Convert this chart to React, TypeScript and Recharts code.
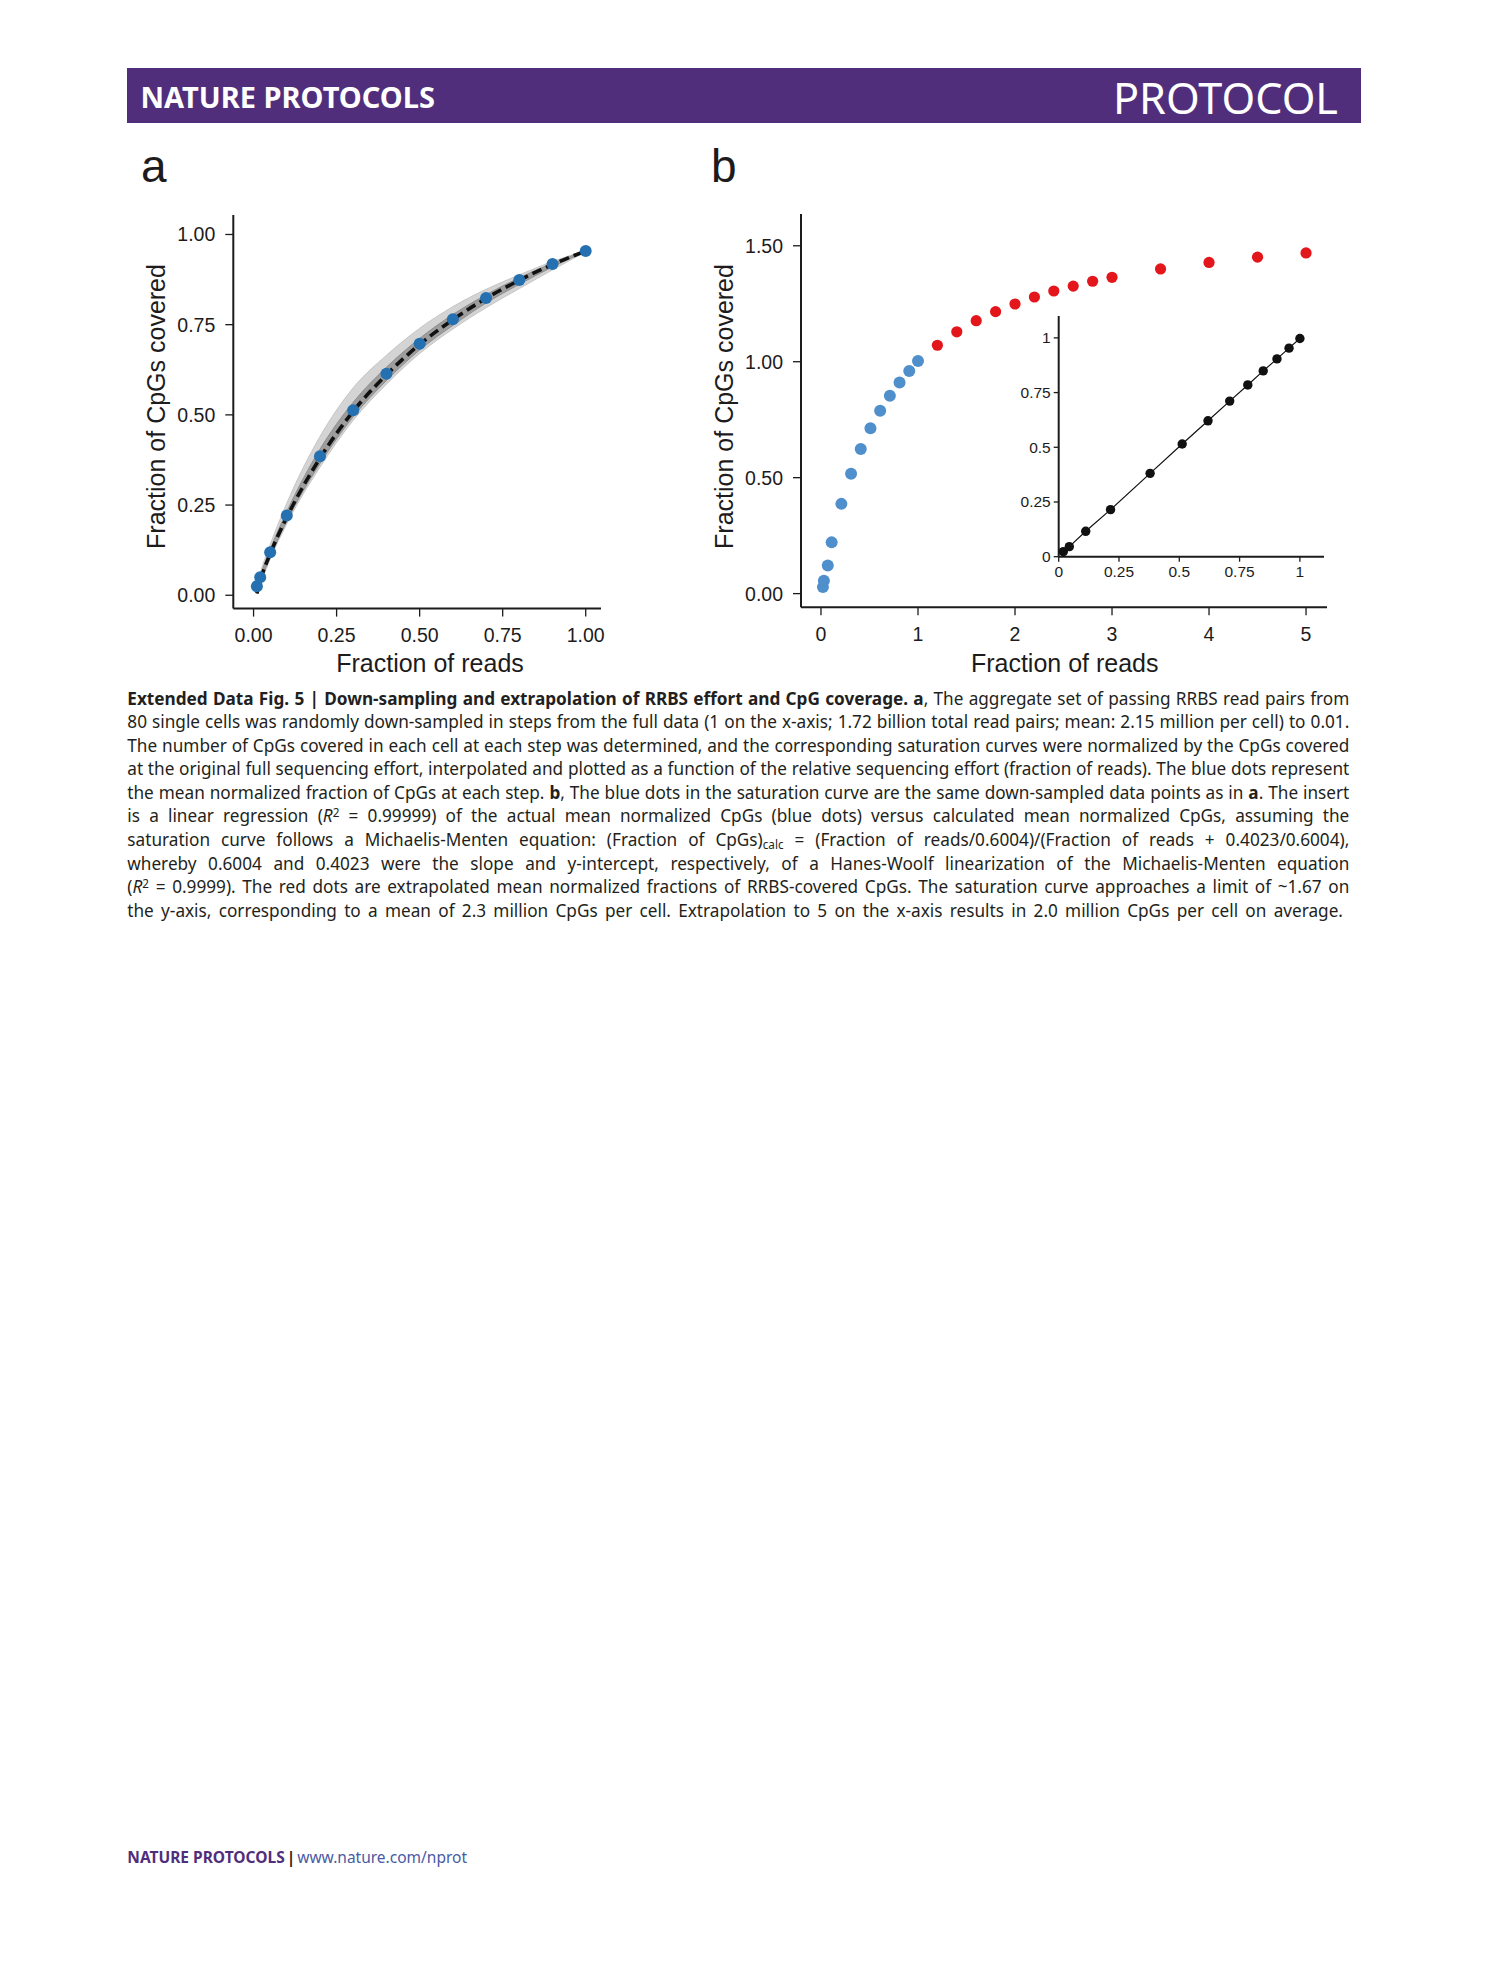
import React from 'react';
import { ComposedChart, XAxis, YAxis, Area, Line, Scatter } from 'recharts';

// ---------- data: panel a ----------
const readFractionsA = [0.01, 0.02, 0.05, 0.1, 0.2, 0.3, 0.4, 0.5, 0.6, 0.7, 0.8, 0.9, 1.0];
const meanCpgA = [0.025, 0.05, 0.119, 0.221, 0.385, 0.513, 0.614, 0.697, 0.765, 0.824, 0.874, 0.918, 0.954];
const dashedCpgA = [0.005, 0.04, 0.115, 0.216, 0.38, 0.51, 0.611, 0.695, 0.764, 0.823, 0.873, 0.917, 0.954];
const cellBandHighA = [0.03, 0.062, 0.14, 0.255, 0.44, 0.575, 0.665, 0.74, 0.8, 0.848, 0.888, 0.925, 0.956];
const cellBandLowA = [0.005, 0.03, 0.1, 0.198, 0.355, 0.485, 0.585, 0.67, 0.738, 0.797, 0.85, 0.902, 0.952];
const cellCoreHighA = [0.02, 0.052, 0.127, 0.232, 0.405, 0.535, 0.632, 0.712, 0.778, 0.833, 0.88, 0.92, 0.955];
const cellCoreLowA = [0.005, 0.035, 0.105, 0.205, 0.365, 0.495, 0.595, 0.68, 0.748, 0.81, 0.862, 0.91, 0.953];
const ticksA = [0, 0.25, 0.5, 0.75, 1];

// ---------- data: panel b ----------
const sampledReadsB = [0.02, 0.03, 0.07, 0.11, 0.21, 0.31, 0.41, 0.51, 0.61, 0.71, 0.81, 0.91, 1.0];
const sampledCpgB = [0.028, 0.055, 0.121, 0.221, 0.387, 0.517, 0.624, 0.713, 0.789, 0.853, 0.91, 0.96, 1.003];
const extrapReadsB = [1.2, 1.4, 1.6, 1.8, 2.0, 2.2, 2.4, 2.6, 2.8, 3.0, 3.5, 4.0, 4.5, 5.0];
const extrapCpgB = [1.071, 1.129, 1.177, 1.216, 1.249, 1.279, 1.305, 1.326, 1.347, 1.364, 1.4, 1.428, 1.451, 1.469];
const ticksBX = [0, 1, 2, 3, 4, 5];
const ticksBY = [0, 0.5, 1, 1.5];

// ---------- data: inset ----------
const insetCalculated = [0.019, 0.044, 0.112, 0.215, 0.379, 0.512, 0.619, 0.709, 0.784, 0.848, 0.905, 0.955, 1.0];
const insetActual = [0.023, 0.046, 0.116, 0.215, 0.381, 0.515, 0.621, 0.711, 0.785, 0.849, 0.904, 0.953, 0.997];
const ticksInset = [0, 0.25, 0.5, 0.75, 1];

// ---------- tables built from arrays ----------
const tableA = readFractionsA.map((x, i) => ({
  x,
  mean: meanCpgA[i],
  dashed: dashedCpgA[i],
  bandLo: cellBandLowA[i],
  bandHi: cellBandHighA[i],
  coreLo: cellCoreLowA[i],
  coreHi: cellCoreHighA[i],
}));
const pointsA = readFractionsA.map((x, i) => ({ x, y: meanCpgA[i] }));
const sampledB = sampledReadsB.map((x, i) => ({ x, y: sampledCpgB[i] }));
const extrapB = extrapReadsB.map((x, i) => ({ x, y: extrapCpgB[i] }));
const insetPts = insetCalculated.map((x, i) => ({ x, y: insetActual[i] }));

const FONT_AX = '"Liberation Sans", Arial, sans-serif';
const FONT_TXT = '"Noto Sans", "Open Sans", sans-serif';
const INK = '#1d1b1c';
const PURPLE = '#512e7b';

const circleShape = (r: number, fill: string) => (props: any) => (
  <circle cx={props.cx} cy={props.cy} r={r} fill={fill} stroke="none" />
);

const axisCommon = (fontSize: number, tickSize: number, tickMargin: number, lw: number) => ({
  axisLine: { stroke: INK, strokeWidth: lw },
  tickLine: { stroke: INK, strokeWidth: 1.3 },
  tick: { fill: INK, fontSize, fontFamily: FONT_AX },
  tickSize,
  tickMargin,
  interval: 0 as const,
  allowDataOverflow: true,
});

const abs = (left: number, top: number, extra: React.CSSProperties = {}): React.CSSProperties => ({
  position: 'absolute',
  left,
  top,
  ...extra,
});

function XTitle({ cx, text }: { cx: number; text: string }) {
  return (
    <div
      style={abs(cx - 200, 650.8, {
        width: 400,
        textAlign: 'center',
        fontFamily: FONT_AX,
        fontSize: 25,
        lineHeight: '25px',
        color: INK,
        whiteSpace: 'nowrap',
      })}
    >
      {text}
    </div>
  );
}

function YTitle({ cx, cy, text }: { cx: number; cy: number; text: string }) {
  return (
    <div
      style={abs(cx - 200, cy - 12.5, {
        width: 400,
        height: 25,
        textAlign: 'center',
        fontFamily: FONT_AX,
        fontSize: 25,
        lineHeight: '25px',
        color: INK,
        whiteSpace: 'nowrap',
        transform: 'rotate(-90deg)',
        transformOrigin: '50% 50%',
      })}
    >
      {text}
    </div>
  );
}

function PanelA() {
  return (
    <div style={abs(100, 150, { width: 540, height: 540 })}>
      <ComposedChart width={540} height={540} data={tableA} margin={{ top: 65, right: 39, bottom: 21.4, left: 30 }}>
        <XAxis
          dataKey="x"
          type="number"
          domain={[-0.061, 1.046]}
          ticks={ticksA}
          tickFormatter={(v: number) => v.toFixed(2)}
          height={60}
          {...axisCommon(19.5, 8, 12, 2)}
        />
        <YAxis
          type="number"
          domain={[-0.037, 1.054]}
          ticks={ticksA}
          tickFormatter={(v: number) => v.toFixed(2)}
          width={103.3}
          {...axisCommon(19.5, 8, 10, 2)}
        />
        <Area
          type="monotone"
          dataKey={(d: any) => [d.bandLo, d.bandHi]}
          fill="#d4d4d4"
          fillOpacity={1}
          stroke="#c6c6c6"
          strokeWidth={1}
          isAnimationActive={false}
        />
        <Area
          type="monotone"
          dataKey={(d: any) => [d.coreLo, d.coreHi]}
          fill="#9d9d9d"
          fillOpacity={1}
          stroke="#8f8f8f"
          strokeWidth={1}
          isAnimationActive={false}
        />
        <Line
          type="monotone"
          dataKey="dashed"
          stroke="#111"
          strokeWidth={3.6}
          strokeDasharray="10 5"
          dot={false}
          isAnimationActive={false}
        />
        <Scatter data={pointsA} dataKey="y" shape={circleShape(6, '#2470b0')} isAnimationActive={false} />
      </ComposedChart>
    </div>
  );
}

function PanelB() {
  return (
    <div style={abs(650, 150, { width: 700, height: 540 })}>
      <ComposedChart width={700} height={540} margin={{ top: 64, right: 23, bottom: 22.7, left: 30 }}>
        <XAxis
          dataKey="x"
          type="number"
          domain={[-0.206, 5.216]}
          ticks={ticksBX}
          height={60}
          {...axisCommon(19.5, 8, 12, 2)}
        />
        <YAxis
          type="number"
          domain={[-0.059, 1.637]}
          ticks={ticksBY}
          tickFormatter={(v: number) => v.toFixed(2)}
          width={121}
          {...axisCommon(19.5, 8, 10, 2)}
        />
        <Scatter data={sampledB} dataKey="y" shape={circleShape(6, '#4f8fcb')} isAnimationActive={false} />
        <Scatter data={extrapB} dataKey="y" shape={circleShape(5.6, '#e3161c')} isAnimationActive={false} />
      </ComposedChart>
    </div>
  );
}

function Inset() {
  return (
    <div style={abs(990, 300, { width: 350, height: 300 })}>
      <ComposedChart width={350} height={300} margin={{ top: 16, right: 16, bottom: 13.3, left: 10 }}>
        <XAxis
          dataKey="x"
          type="number"
          domain={[0, 1.1]}
          ticks={ticksInset}
          height={30}
          {...axisCommon(15.5, 5, 4, 2)}
        />
        <YAxis
          type="number"
          domain={[0, 1.1]}
          ticks={ticksInset}
          width={58.7}
          {...axisCommon(15.5, 5, 3, 2)}
        />
        <Line
          data={insetPts}
          dataKey="y"
          type="linear"
          stroke="#111"
          strokeWidth={1.2}
          dot={false}
          isAnimationActive={false}
        />
        <Scatter data={insetPts} dataKey="y" shape={circleShape(4.7, '#111')} isAnimationActive={false} />
      </ComposedChart>
    </div>
  );
}

const Sup = ({ children }: { children: React.ReactNode }) => (
  <sup style={{ fontSize: '0.68em', lineHeight: 0, verticalAlign: '0.45em' }}>{children}</sup>
);
const Sub = ({ children }: { children: React.ReactNode }) => (
  <sub style={{ fontSize: '0.68em', lineHeight: 0, verticalAlign: '-0.25em' }}>{children}</sub>
);

const captionLines: React.ReactNode[] = [
  <>
    <b>Extended Data Fig. 5 | Down-sampling and extrapolation of RRBS effort and CpG coverage. a</b>, The aggregate
    set of passing RRBS read pairs from
  </>,
  <>
    80 single cells was randomly down-sampled in steps from the full data (1 on the x-axis; 1.72 billion total read
    pairs; mean: 2.15 million per cell) to 0.01.
  </>,
  <>
    The number of CpGs covered in each cell at each step was determined, and the corresponding saturation curves were
    normalized by the CpGs covered
  </>,
  <>
    at the original full sequencing effort, interpolated and plotted as a function of the relative sequencing effort
    (fraction of reads). The blue dots represent
  </>,
  <>
    the mean normalized fraction of CpGs at each step. <b>b</b>, The blue dots in the saturation curve are the same
    down-sampled data points as in <b>a</b>. The insert
  </>,
  <>
    is a linear regression (<i>R</i>
    <Sup>2</Sup> = 0.99999) of the actual mean normalized CpGs (blue dots) versus calculated mean normalized CpGs,
    assuming the
  </>,
  <>
    saturation curve follows a Michaelis-Menten equation: (Fraction of CpGs)<Sub>calc</Sub> = (Fraction of
    reads/0.6004)/(Fraction of reads + 0.4023/0.6004),
  </>,
  <>
    whereby 0.6004 and 0.4023 were the slope and y-intercept, respectively, of a Hanes-Woolf linearization of the
    Michaelis-Menten equation
  </>,
  <>
    (<i>R</i>
    <Sup>2</Sup> = 0.9999). The red dots are extrapolated mean normalized fractions of RRBS-covered CpGs. The
    saturation curve approaches a limit of ~1.67 on
  </>,
  <>
    the y-axis, corresponding to a mean of 2.3 million CpGs per cell. Extrapolation to 5 on the x-axis results in 2.0
    million CpGs per cell on average.
  </>,
];

function Caption() {
  return (
    <div style={abs(127.3, 686.5, { width: 1222, fontFamily: FONT_TXT, fontSize: 17.2, color: '#231f20' })}>
      {captionLines.map((ln, i) => {
        const justify = i < captionLines.length - 1;
        return (
          <div
            key={i}
            style={{
              height: 23.6,
              lineHeight: '23.6px',
              textAlign: justify ? 'justify' : 'left',
              textAlignLast: justify ? 'justify' : 'left',
              wordSpacing: justify ? 0 : 2.8,
              whiteSpace: 'nowrap',
            }}
          >
            {ln}
          </div>
        );
      })}
    </div>
  );
}

export default function App() {
  return (
    <div
      style={{
        position: 'absolute',
        left: 0,
        top: 0,
        width: 1489,
        height: 1978,
        background: '#fff',
        overflow: 'hidden',
      }}
    >
      {/* header bar */}
      <div style={abs(127.3, 68, { width: 1233.4, height: 54.7, background: PURPLE })} />
      <div
        style={abs(140.5, 82.2, {
          fontFamily: FONT_TXT,
          fontWeight: 700,
          fontSize: 29,
          lineHeight: '29px',
          color: '#fff',
          whiteSpace: 'nowrap',
        })}
      >
        NATURE PROTOCOLS
      </div>
      <div
        style={abs(938, 75.5, {
          width: 400,
          textAlign: 'right',
          fontFamily: FONT_TXT,
          fontWeight: 400,
          fontSize: 43.2,
          lineHeight: '43.2px',
          color: '#fff',
          whiteSpace: 'nowrap',
        })}
      >
        PROTOCOL
      </div>

      {/* panel letters */}
      <div style={abs(141, 143, { fontFamily: FONT_AX, fontSize: 46, lineHeight: '46px', color: INK })}>a</div>
      <div style={abs(711, 143, { fontFamily: FONT_AX, fontSize: 46, lineHeight: '46px', color: INK })}>b</div>

      <PanelA />
      <PanelB />
      <Inset />

      <XTitle cx={430} text="Fraction of reads" />
      <XTitle cx={1064.7} text="Fraction of reads" />
      <YTitle cx={155.5} cy={406} text="Fraction of CpGs covered" />
      <YTitle cx={723.5} cy={406} text="Fraction of CpGs covered" />

      <Caption />

      {/* footer */}
      <div
        style={abs(127.3, 1850, {
          fontFamily: FONT_TXT,
          fontSize: 15.5,
          lineHeight: '15.5px',
          whiteSpace: 'nowrap',
        })}
      >
        <span style={{ fontWeight: 700, color: PURPLE }}>NATURE PROTOCOLS</span>
        <span style={{ fontWeight: 700, color: INK, margin: '0 2px' }}>|</span>
        <span style={{ color: '#4a5aa3' }}>www.nature.com/nprot</span>
      </div>
    </div>
  );
}
